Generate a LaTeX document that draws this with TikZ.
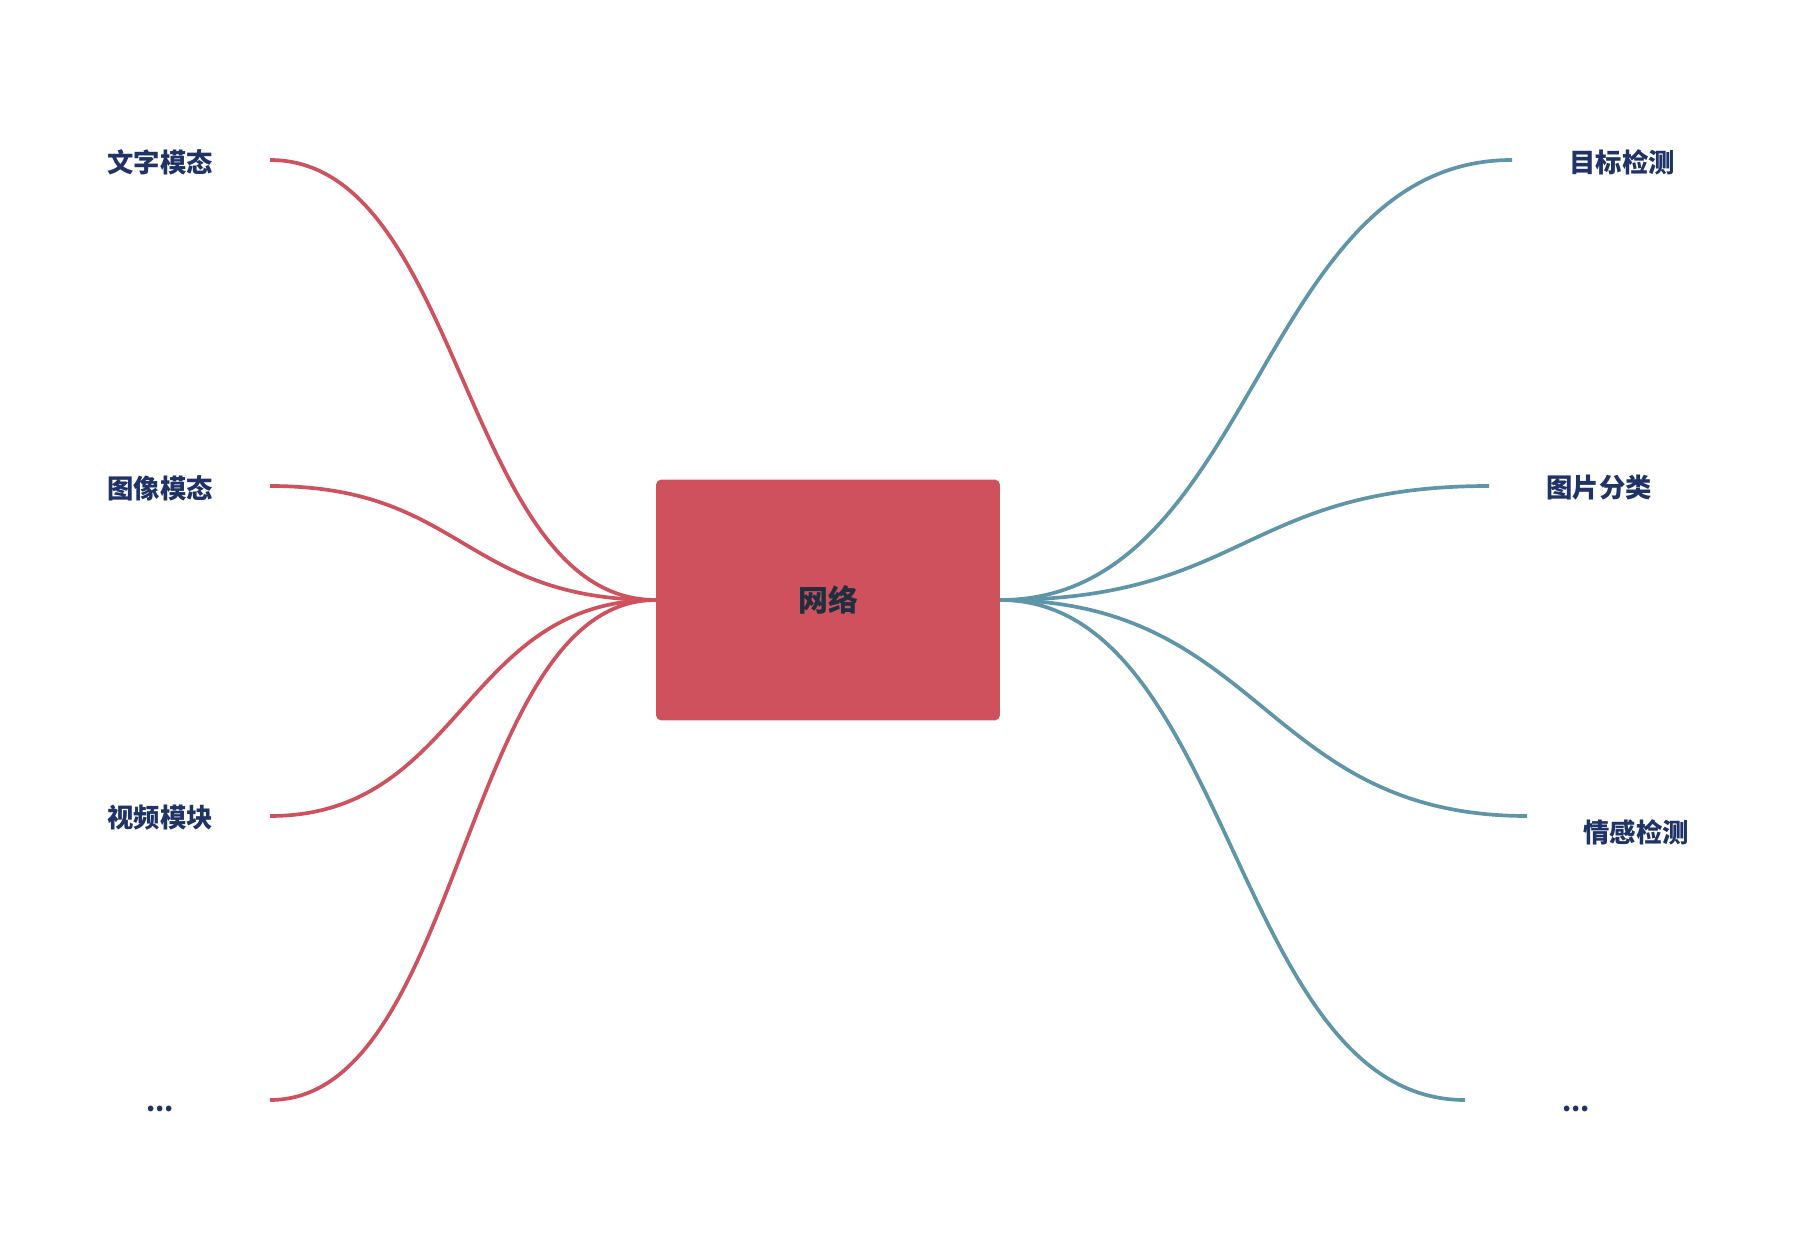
\documentclass[tikz,border=0pt]{standalone}
\usepackage{fontspec}
\usepackage{tikz}
\setmainfont{Noto Sans CJK SC}
\usetikzlibrary{positioning}
\definecolor{mred}{HTML}{CF515E}
\definecolor{mteal}{HTML}{5E95A8}
\definecolor{mnavy}{HTML}{1F3366}
\definecolor{mdark}{HTML}{1F2F3F}
\tikzset{hub/.style = {fill=mred, rounded corners=3pt, minimum width=6.88cm, minimum height=4.82cm, inner sep=0, text=mdark, font=\fontsize{17}{19}\selectfont\bfseries}}
\tikzset{leaf/.style = {inner sep=0, text=mnavy, font=\fontsize{15}{17}\selectfont\bfseries}}
\tikzset{lbranch/.style = {mred, line width=2.1pt}}
\tikzset{rbranch/.style = {mteal, line width=2.1pt}}
\newcommand{\moredots}{...}

\begin{document}
\begin{tikzpicture}[x=0.02cm, y=-0.02cm]
    \useasboundingbox (0, 0) rectangle (1796, 1260);

    \node [hub] (net) at (828, 600) {网络};

    \foreach \n/\y in {l1/160, l2/486, l3/816, l4/1100}{
      \coordinate (\n end) at (270, \y);
      \draw [lbranch] (net.west) .. controls +(-193, 0) and +(193, 0) .. (\n end);
    }
    \foreach \n/\x/\y/\d in {r1/1512/160/256, r2/1489/486/245, r3/1527/816/263, r4/1465/1100/232}{
      \coordinate (\n end) at (\x, \y);
      \draw [rbranch] (net.east) .. controls +(\d, 0) and +(-\d, 0) .. (\n end);
    }

    \node [leaf] (l1) at (160, 162) {文字模态};
    \node [leaf] (l2) at (160, 488) {图像模态};
    \node [leaf] (l3) at (160, 818) {视频模块};
    \node [leaf] (l4) at (160, 1109) {\moredots};

    \node [leaf] (r1) at (1622, 162) {目标检测};
    \node [leaf] (r2) at (1599, 488) {图片分类};
    \node [leaf] (r3) at (1636, 832) {情感检测};
    \node [leaf] (r4) at (1576, 1109) {\moredots};
  \end{tikzpicture}
\end{document}
